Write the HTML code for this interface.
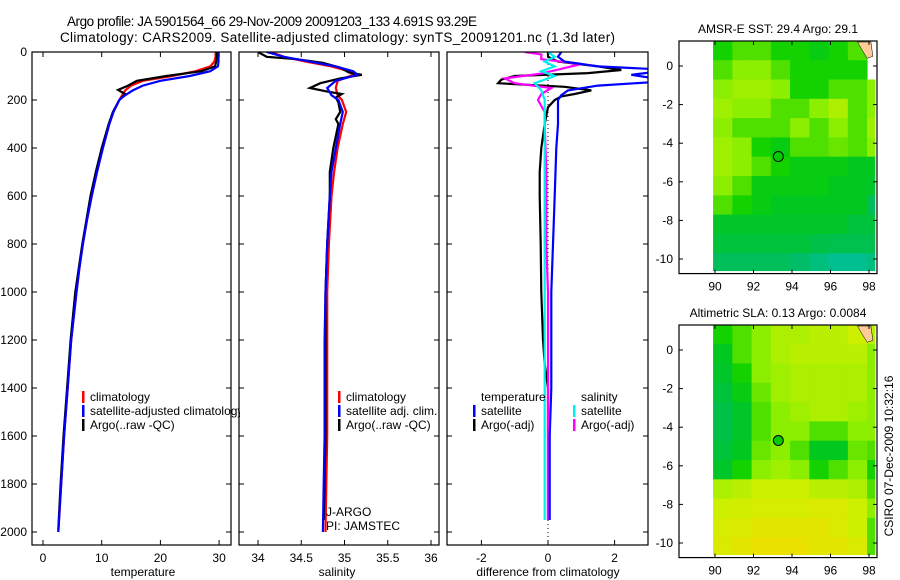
<!DOCTYPE html>
<html><head><meta charset="utf-8"><style>
html,body{margin:0;padding:0;background:#fff;}
svg{display:block;font-family:"Liberation Sans",sans-serif;}
text{fill:#000;}
</style></head><body>
<svg id="fig" width="900" height="580" viewBox="0 0 900 580">
<defs>
<clipPath id="c1"><rect x="32" y="52" width="208" height="494"/></clipPath>
<clipPath id="p1"><rect x="32" y="52" width="199" height="493"/></clipPath>
<clipPath id="p2"><rect x="239" y="52" width="200" height="493"/></clipPath>
<clipPath id="p3"><rect x="447" y="52" width="201" height="493"/></clipPath>
</defs>
<text x="67" y="26" font-size="13.5" textLength="410">Argo profile: JA 5901564_66 29-Nov-2009 20091203_133 4.691S 93.29E</text>
<text x="60" y="42" font-size="13.5" textLength="555">Climatology: CARS2009. Satellite-adjusted climatology: synTS_20091201.nc (1.3d later)</text>
<g id="g"></g>
</svg>
<script>
// ---------- DATA ----------
const tDepthClim = [0,20,40,60,80,100,120,140,160,180,200,250,300,400,500,600,700,800,900,1000,1200,1400,1600,1800,2000];
const tempClim   = [29.4,29.4,29.2,28.5,26,22,17,15,14,13.5,13,12,11.3,10.2,9.2,8.3,7.5,6.8,6.2,5.7,4.8,4.2,3.6,3.1,2.6];
const tDepthArgo = [0,20,40,60,80,100,120,140,158,175,200,250,300,400,500,600,700,800,900,1000,1200,1400,1600,1800,1990];
const tempArgo   = [29.6,29.6,29.5,29.3,27,21,16,14.5,12.8,14,13,11.9,11.2,10,9,8.1,7.4,6.7,6.1,5.5,4.7,4.1,3.5,3.0,2.6];
const tDepthSat  = [0,20,40,60,80,100,120,140,160,180,200,250,300,400,500,600,700,800,900,1000,1200,1400,1600,1800,2000];
const tempSat    = [29.9,29.9,29.9,29.8,28.5,25,20,17,15.3,14,13,12,11.3,10.2,9.2,8.3,7.5,6.8,6.2,5.7,4.8,4.2,3.6,3.1,2.6];

const sDepthArgo = [0,20,30,45,65,85,95,110,130,150,165,175,190,210,250,280,300,400,500,600,800,1000,1200,1400,1600,1800,1950];
const salArgo    = [34.0,34.1,34.45,34.75,34.95,35.05,35.2,34.95,34.72,34.6,34.8,34.97,34.9,34.93,34.95,34.9,34.93,34.87,34.83,34.83,34.8,34.78,34.78,34.78,34.78,34.77,34.76];
const sDepthClim = [0,20,40,60,80,95,120,150,180,200,250,300,400,500,600,800,1000,1200,1400,1600,1800,2000];
const salClim    = [34.15,34.3,34.55,34.85,35.05,35.1,34.92,34.9,34.92,34.97,35.02,34.98,34.92,34.88,34.85,34.82,34.8,34.8,34.8,34.8,34.79,34.78];
const salSat     = [34.1,34.3,34.6,34.9,35.1,35.15,34.9,34.8,34.85,34.93,34.98,34.95,34.9,34.85,34.83,34.8,34.78,34.77,34.77,34.77,34.76,34.75];

const dDepthTSat  = [0,20,40,60,70,83,95,110,125,140,160,180,200,250,300,400,600,800,1000,1200,1400,1600,1800,1950];
const diffTSat    = [0.4,0.3,0.5,1.5,3,3.2,2.5,3.2,3.2,1.5,0.6,0.4,0.3,0.3,0.3,0.25,0.2,0.15,0.1,0.1,0.1,0.05,0.05,0.05];
const dDepthTArgo = [0,20,40,60,75,88,100,115,130,145,160,175,185,200,230,300,400,500,600,800,1000,1200,1300,1400,1600,1800,1950];
const diffTArgo   = [0,0,0.3,1.5,2.2,1.2,-1.0,-1.4,-1.5,0.5,1.3,0.8,0.4,0.2,0,-0.1,-0.2,-0.25,-0.25,-0.22,-0.2,-0.15,-0.1,0,0,0,0];
const dDepthSArgo = [0,10,30,50,70,90,110,130,150,175,200,250,300,500,800,1000,1200,1400,1600,1950];
const diffSArgo   = [-0.7,-0.2,-0.2,1.0,0.4,-0.2,-1.3,-1.0,0.1,-0.2,-0.3,-0.1,-0.1,-0.05,-0.05,0,0,0,0,0];
const dDepthSSat  = [0,20,40,60,80,100,130,160,200,250,300,500,800,1000,1400,1950];
const diffSSat    = [0,0.2,-0.1,0.2,-0.2,0.2,-0.4,-0.2,-0.1,-0.1,-0.1,-0.1,-0.1,-0.1,-0.1,-0.1];

const depthTicks = [0,200,400,600,800,1000,1200,1400,1600,1800,2000];
const tempTicks = [0,10,20,30];
const salTicks = [34,34.5,35,35.5,36];
const diffTicks = [-2,0,2];
const lonTicks = [90,92,94,96,98];
const latTicks = [0,-2,-4,-6,-8,-10];

const sstGrid = [
[.45,.5,.5,.45,.45,.42,.45,.5,-1],
[.5,.55,.55,.5,.45,.45,.45,.45,-1],
[.55,.58,.58,.55,.45,.45,.5,.5,.55],
[.58,.55,.55,.5,.5,.55,.6,.5,.55],
[.55,.5,.5,.5,.55,.5,.55,.5,.58],
[.58,.55,.45,.42,.5,.5,.52,.5,.55],
[.58,.55,.5,.45,.42,.42,.42,.4,.4],
[.55,.5,.42,.42,.42,.42,.4,.4,.38],
[.5,.45,.42,.4,.4,.4,.4,.4,.3],
[.38,.38,.38,.38,.38,.38,.38,.35,.35],
[.35,.35,.35,.35,.35,.33,.32,.32,.32],
[.3,.3,.3,.3,.28,.25,.22,.22,.25]];
const slaGrid = [
[.45,.5,.55,.6,.6,.62,.62,.65,.62],
[.4,.5,.55,.6,.62,.62,.62,.62,.55],
[.38,.45,.55,.58,.6,.6,.6,.6,.55],
[.35,.42,.52,.58,.6,.6,.6,.6,.55],
[.33,.38,.5,.55,.58,.6,.6,.58,.55],
[.33,.38,.5,.55,.55,.5,.5,.55,.55],
[.35,.4,.52,.55,.5,.4,.4,.52,.5],
[.38,.45,.55,.58,.55,.45,.5,.55,.45],
[.6,.62,.65,.65,.65,.62,.62,.6,.5],
[.65,.66,.67,.67,.67,.68,.68,.65,.55],
[.67,.68,.7,.7,.7,.7,.68,.65,.5],
[.68,.7,.72,.72,.72,.7,.7,.68,.5]];
const floatLon = 93.29, floatLat = -4.691;

// ---------- HELPERS ----------
const NS='http://www.w3.org/2000/svg';
const G=document.getElementById('g');
function el(tag,attrs,parent,txt){const e=document.createElementNS(NS,tag);for(const k in attrs)e.setAttribute(k,attrs[k]);if(txt!==undefined)e.textContent=txt;(parent||G).appendChild(e);return e;}
const yD = d => 52 + d*0.24;
const xT = v => 43 + v*5.87;
const xS = v => 258 + (v-34)*86.5;
const xF = v => 548 + v*33.3;

function line(xs,ds,fx,color,name,clip,w){
  const pts=xs.map((v,i)=>fx(v).toFixed(1)+','+yD(ds[i]).toFixed(1)).join(' ');
  const p=el('polyline',{points:pts,fill:'none',stroke:color,'stroke-width':w||2.2,'clip-path':'url(#'+clip+')'});
  
  
}
function box(x0,x1,y0,y1,name){
  const r=el('rect',{x:x0,y:y0,width:x1-x0,height:y1-y0,fill:'none',stroke:'#000','stroke-width':1.2});
  
  
}
function xticks(vals,fx,y0,y1,name,fmt){
  vals.forEach(v=>{const x=fx(v);
    el('line',{x1:x,x2:x,y1:y1,y2:y1-5,stroke:'#000'});
    el('line',{x1:x,x2:x,y1:y0,y2:y0+5,stroke:'#000'});
    const t=el('text',{x:x,y:y1+17,'font-size':12,'text-anchor':'middle'},G,fmt?fmt(v):String(v));
    
    
  });
}
function dticks(x0,x1,labels){
  depthTicks.forEach(d=>{const y=yD(d);
    el('line',{x1:x0,x2:x0+5,y1:y,y2:y,stroke:'#000'});
    el('line',{x1:x1,x2:x1-5,y1:y,y2:y,stroke:'#000'});
    if(labels){const t=el('text',{x:x0-5,y:y+4,'font-size':12,'text-anchor':'end'},G,String(d));
      
      }
  });
}
function legend(x,y,color,label,name){
  el('rect',{x:x,y:y-6,width:2.5,height:12,fill:color});
  const t=el('text',{x:x+8,y:y+4,'font-size':12,'clip-path':'url(#c1)'},G,label);
  if(x>200) t.removeAttribute('clip-path');
  
  
}
function label(x,y,txt,name,anchor){
  const t=el('text',{x:x,y:y,'font-size':12,'text-anchor':anchor||'middle'},G,txt);
  
  
}

// ---------- PANEL 1 ----------
line(tempClim,tDepthClim,xT,'#ff0000','temp-climatology-line','p1');
line(tempArgo,tDepthArgo,xT,'#000000','temp-argo-line','p1');
line(tempSat,tDepthSat,xT,'#0000ff','temp-satellite-line','p1');
box(32,231,52,545,'temperature-axes');
dticks(32,231,true);
xticks(tempTicks,xT,52,545,'temperature');
label(143,576,'temperature','temperature-axis-title');
legend(82,397,'#ff0000','climatology','legend-climatology');
legend(82,411,'#0000ff','satellite-adjusted climatology','legend-satellite-adjusted');
legend(82,425,'#000000','Argo(..raw -QC)','legend-argo');

// ---------- PANEL 2 ----------
line(salClim,sDepthClim,xS,'#ff0000','sal-climatology-line','p2');
line(salArgo,sDepthArgo,xS,'#000000','sal-argo-line','p2');
line(salSat,sDepthClim,xS,'#0000ff','sal-satellite-line','p2');
box(239,439,52,545,'salinity-axes');
dticks(239,439,false);
xticks(salTicks,xS,52,545,'salinity');
label(337,576,'salinity','salinity-axis-title');
legend(338,397,'#ff0000','climatology','legend-sal-climatology');
legend(338,411,'#0000ff','satellite adj. clim.','legend-sal-satellite');
legend(338,425,'#000000','Argo(..raw -QC)','legend-sal-argo');
label(326,516,'J-ARGO','float-program','start');
label(326,530,'PI: JAMSTEC','float-pi','start');

// ---------- PANEL 3 ----------
el('line',{x1:xF(0),x2:xF(0),y1:52,y2:545,stroke:'#000','stroke-dasharray':'1 3'});
line(diffTArgo,dDepthTArgo,xF,'#000000','diff-temp-argo-line','p3');
line(diffSArgo,dDepthSArgo,xF,'#ff00ff','diff-sal-argo-line','p3');
line(diffTSat,dDepthTSat,xF,'#0000ff','diff-temp-satellite-line','p3');
line(diffSSat,dDepthSSat,xF,'#00eeee','diff-sal-satellite-line','p3');
box(447,648,52,545,'difference-axes');
dticks(447,648,false);
xticks(diffTicks,xF,52,545,'difference');
label(548,576,'difference from climatology','difference-axis-title');
label(481,401,'temperature','legend-temperature-heading','start');
label(581,401,'salinity','legend-salinity-heading','start');
legend(473,411,'#0000ff','satellite','legend-diff-temp-satellite');
legend(473,425,'#000000','Argo(-adj)','legend-diff-temp-argo');
legend(573,411,'#00eeee','satellite','legend-diff-sal-satellite');
legend(573,425,'#ff00ff','Argo(-adj)','legend-diff-sal-argo');

// ---------- MAPS ----------
const stops=[[0.2,[0,192,160]],[0.3,[0,190,90]],[0.4,[0,200,30]],[0.45,[20,210,0]],[0.55,[140,238,0]],[0.65,[205,240,0]],[0.72,[235,225,0]],[0.8,[255,170,0]]];
function cmap(v){
  if(v<=stops[0][0])return 'rgb('+stops[0][1]+')';
  for(let i=1;i<stops.length;i++){if(v<=stops[i][0]){const a=stops[i-1],b=stops[i],t=(v-a[0])/(b[0]-a[0]);
    return 'rgb('+a[1].map((c,k)=>Math.round(c+(b[1][k]-c)*t)).join(',')+')';}}
  return 'rgb('+stops[stops.length-1][1]+')';
}
function drawMap(grid,top,zeroY,title,name){
  const xL=lon=>715+(lon-90)*19.25, yL=lat=>zeroY-lat*19.3;
  const bottom=yL(-10.6)+3;
  label(778,top-8,title,name+'-title');
  grid.forEach((row,r)=>row.forEach((v,c)=>{
    if(v<0)return;
    const lat0=1.3-r, lat1=Math.max(-10.6,lat0-1);
    const lon0=89.9+c, lon1=Math.min(98.3,lon0+1);
    const rc=el('rect',{x:xL(lon0),y:yL(lat0),width:xL(lon1)-xL(lon0)+0.5,height:yL(lat1)-yL(lat0)+0.5,fill:cmap(v)});
    
    
  }));
  el('path',{d:`M${xL(97.4)} ${top+1} L${xL(98.1)} ${top+1} L${xL(98.2)} ${yL(0.5)} L${xL(97.9)} ${yL(0.4)} L${xL(97.6)} ${yL(0.9)} Z`,fill:'#ffcc99',stroke:'#000','stroke-width':0.5});
  const m=el('circle',{cx:xL(floatLon),cy:yL(floatLat),r:5,fill:'#00cc00',stroke:'#000','stroke-width':1});
  
  
  box(679,877,top,bottom,name+'-axes');
  lonTicks.forEach(l=>{const x=xL(l);
    el('line',{x1:x,x2:x,y1:top,y2:top+4,stroke:'#000'});
    el('line',{x1:x,x2:x,y1:bottom,y2:bottom-4,stroke:'#000'});
    label(x,bottom+17,String(l),name+'-lon-tick-label');});
  latTicks.forEach(l=>{const y=yL(l);
    el('line',{x1:679,x2:683,y1:y,y2:y,stroke:'#000'});
    el('line',{x1:877,x2:873,y1:y,y2:y,stroke:'#000'});
    label(673,y+4,String(l),name+'-lat-tick-label','end');});
}
drawMap(sstGrid,41,66,'AMSR-E SST: 29.4  Argo: 29.1','sst-map');
drawMap(slaGrid,325,350,'Altimetric SLA: 0.13  Argo: 0.0084','sla-map');

const cs=el('text',{x:0,y:0,'font-size':12,'text-anchor':'middle',transform:'translate(893,456) rotate(-90)'},G,'CSIRO 07-Dec-2009 10:32:16');


</script>
</body></html>
